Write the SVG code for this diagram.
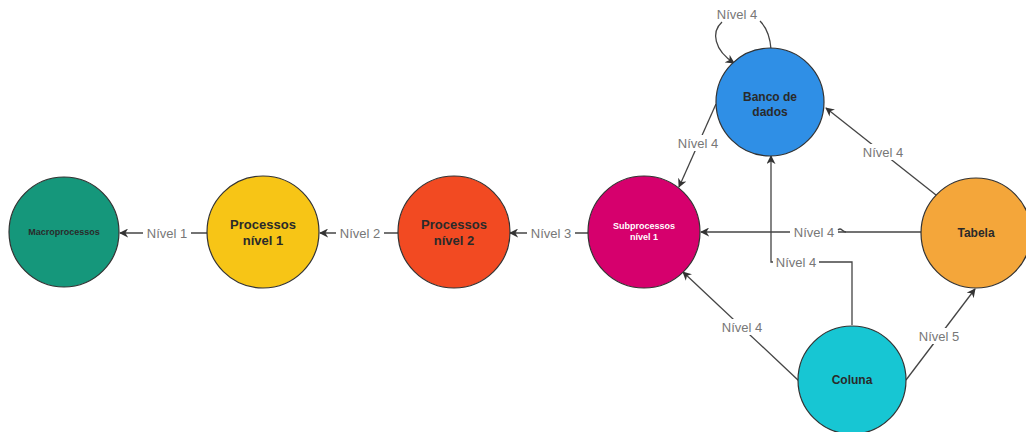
<svg xmlns="http://www.w3.org/2000/svg" width="1026" height="432" viewBox="0 0 1026 432">
<defs>
<marker id="arr" viewBox="0 0 10 10" refX="9" refY="5" markerWidth="9" markerHeight="9" markerUnits="userSpaceOnUse" orient="auto">
<path d="M0,0 L10,5 L0,10 L3,5 Z" fill="#333"/>
</marker>
<style>
.n{stroke:#333;stroke-width:1.2}
.t{font-family:"Liberation Sans",Arial,sans-serif;font-weight:bold;text-anchor:middle;fill:#2a2a2a}
.e{fill:none;stroke:#444;stroke-width:1.3;marker-end:url(#arr)}
.p{fill:none;stroke:#444;stroke-width:1.3}
.l{font-family:"Liberation Sans",Arial,sans-serif;font-size:13px;fill:#777;text-anchor:middle}
.bg{fill:#fff}
</style>
</defs>
<rect width="1026" height="432" fill="#fff"/>
<g id="connectors">
<line class="e" x1="207" y1="233" x2="120" y2="233"/>
<line class="e" x1="398" y1="233" x2="320" y2="233"/>
<line class="e" x1="588" y1="233" x2="510" y2="233"/>
<line class="e" x1="921" y1="232" x2="701" y2="232"/>
<path class="e" d="M852,325 V262 H771 V156"/>
<line class="e" x1="799" y1="381" x2="683" y2="272"/>
<line class="e" x1="906" y1="380" x2="975" y2="289"/>
<line class="e" x1="936" y1="195" x2="826" y2="108"/>
<line class="e" x1="716" y1="104" x2="679" y2="187"/>
<path class="p" d="M771,49 C770,36 766,27 760,21"/>
<path class="e" d="M722,22 C711,32 714,50 734,63"/>
<rect class="bg" x="143" y="225" width="48" height="16"/>
<text class="l" x="167" y="238">Nível 1</text>
<rect class="bg" x="336" y="225" width="48" height="16"/>
<text class="l" x="360" y="238">Nível 2</text>
<rect class="bg" x="527" y="225" width="48" height="16"/>
<text class="l" x="551" y="238">Nível 3</text>
<rect class="bg" x="790" y="224" width="48" height="16"/>
<text class="l" x="814" y="237">Nível 4</text>
<path class="p" d="M838,230 q2,-2 4,0 q2,2 4,2"/>
<rect class="bg" x="773" y="254" width="46" height="16"/>
<text class="l" x="796" y="267">Nível 4</text>
<rect class="bg" x="718" y="319" width="48" height="16"/>
<text class="l" x="742" y="332">Nível 4</text>
<rect class="bg" x="915" y="328" width="48" height="16"/>
<text class="l" x="939" y="341">Nível 5</text>
<rect class="bg" x="859" y="144" width="48" height="16"/>
<text class="l" x="883" y="157">Nível 4</text>
<rect class="bg" x="674" y="135" width="48" height="16"/>
<text class="l" x="698" y="148">Nível 4</text>
<text class="l" x="737" y="19">Nível 4</text>
</g>
<g id="macroprocessos">
<circle class="n" cx="64" cy="232" r="55" fill="#15977b"/>
<text class="t" x="64" y="235" font-size="9">Macroprocessos</text>
</g>
<g id="processos-nivel-1">
<circle class="n" cx="263" cy="232" r="56" fill="#f7c516"/>
<text class="t" x="263" y="229" font-size="13">Processos</text>
<text class="t" x="263" y="245" font-size="13">nível 1</text>
</g>
<g id="processos-nivel-2">
<circle class="n" cx="454" cy="232" r="56" fill="#f24a22"/>
<text class="t" x="454" y="229" font-size="13">Processos</text>
<text class="t" x="454" y="245" font-size="13">nível 2</text>
</g>
<g id="subprocessos-nivel-1">
<circle class="n" cx="644" cy="232" r="56" fill="#d6006d"/>
<text class="t" x="644" y="229" font-size="9" style="fill:#fff">Subprocessos</text>
<text class="t" x="644" y="240" font-size="9" style="fill:#fff">nível 1</text>
</g>
<g id="banco-de-dados">
<circle class="n" cx="770" cy="102" r="54" fill="#2f8fe6"/>
<text class="t" x="770" y="101" font-size="12">Banco de</text>
<text class="t" x="770" y="116" font-size="12">dados</text>
</g>
<g id="tabela">
<circle class="n" cx="976" cy="233" r="55" fill="#f4a63a"/>
<text class="t" x="976" y="237" font-size="12">Tabela</text>
</g>
<g id="coluna">
<circle class="n" cx="852" cy="380" r="54" fill="#17c6d3"/>
<text class="t" x="852" y="384" font-size="12">Coluna</text>
</g>
</svg>
